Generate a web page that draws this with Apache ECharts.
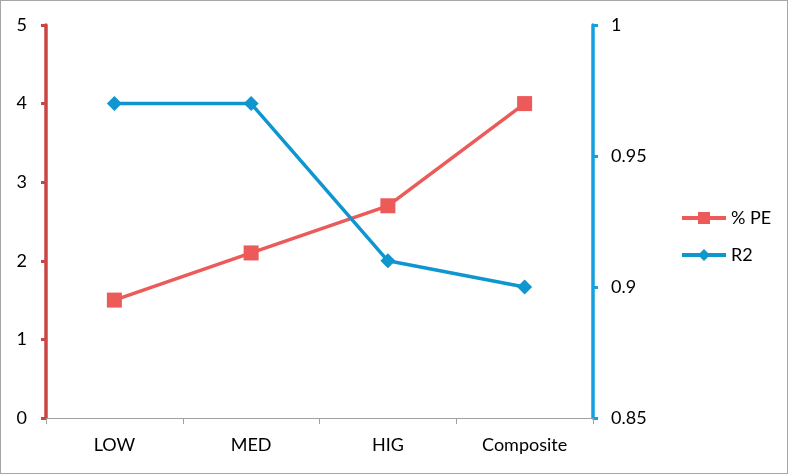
<!DOCTYPE html>
<html><head><meta charset="utf-8">
<script src="https://cdn.jsdelivr.net/npm/echarts@6/dist/echarts.min.js"></script>
<style>html,body{margin:0;padding:0;background:#fff}
#c{position:absolute;left:0;top:0;width:786px;height:472px;border:1px solid #a6a6a6}</style>
</head><body><div id="c"></div>
<script>
const categories = ['LOW', 'MED', 'HIG', 'Composite'];
const pePercent = [1.5, 2.1, 2.7, 4.0];
const r2Values = [0.97, 0.97, 0.91, 0.90];
const leftTicks = [0, 5, 1];
const rightTicks = [0.85, 1, 0.05];

const chart = echarts.init(document.getElementById('c'));
const font = 'Lato, "Open Sans", sans-serif';
chart.setOption({
  animation: false,
  textStyle: {fontFamily: font},
  grid: {left: 45, right: 194, top: 24, bottom: 55, containLabel: false},
  legend: {
    orient: 'vertical', left: 674, top: 203, itemGap: 19,
    itemWidth: 44, itemHeight: 15,
    lineStyle: {width: 4},
    textStyle: {fontSize: 18, color: '#000', fontFamily: font},
    data: ['% PE', 'R2']
  },
  xAxis: {
    type: 'category', data: categories, boundaryGap: true,
    axisLine: {lineStyle: {color: '#a0a0a0', width: 1}},
    axisTick: {show: true, length: 6, lineStyle: {color: '#a0a0a0'}},
    axisLabel: {fontSize: 18, color: '#000', margin: 18, fontFamily: font},
    splitLine: {show: false}
  },
  yAxis: [{
    type: 'value', min: leftTicks[0], max: leftTicks[1], interval: leftTicks[2], position: 'left',
    axisLine: {show: true, lineStyle: {color: '#cc4545', width: 3.5}},
    axisTick: {show: true, length: 5, lineStyle: {color: '#cc4545', width: 3}},
    axisLabel: {fontSize: 18, color: '#000', margin: 19, fontFamily: font},
    splitLine: {show: false}
  }, {
    type: 'value', min: rightTicks[0], max: rightTicks[1], interval: rightTicks[2], position: 'right',
    axisLine: {show: true, lineStyle: {color: '#14a0de', width: 3.5}},
    axisTick: {show: true, length: 5, lineStyle: {color: '#14a0de', width: 3}},
    axisLabel: {fontSize: 18, color: '#000', margin: 18, fontFamily: font,
      formatter: v => String(parseFloat(v.toFixed(2)))},
    splitLine: {show: false}
  }],
  series: [{
    name: '% PE', type: 'line', yAxisIndex: 0, data: pePercent,
    symbol: 'rect', symbolSize: 15,
    lineStyle: {color: '#ec5a5a', width: 3.5},
    itemStyle: {color: '#ec5a5a'}
  }, {
    name: 'R2', type: 'line', yAxisIndex: 1, data: r2Values,
    symbol: 'diamond', symbolSize: 15,
    lineStyle: {color: '#0f96cf', width: 3.5},
    itemStyle: {color: '#0f96cf'}
  }]
});
</script></body></html>
